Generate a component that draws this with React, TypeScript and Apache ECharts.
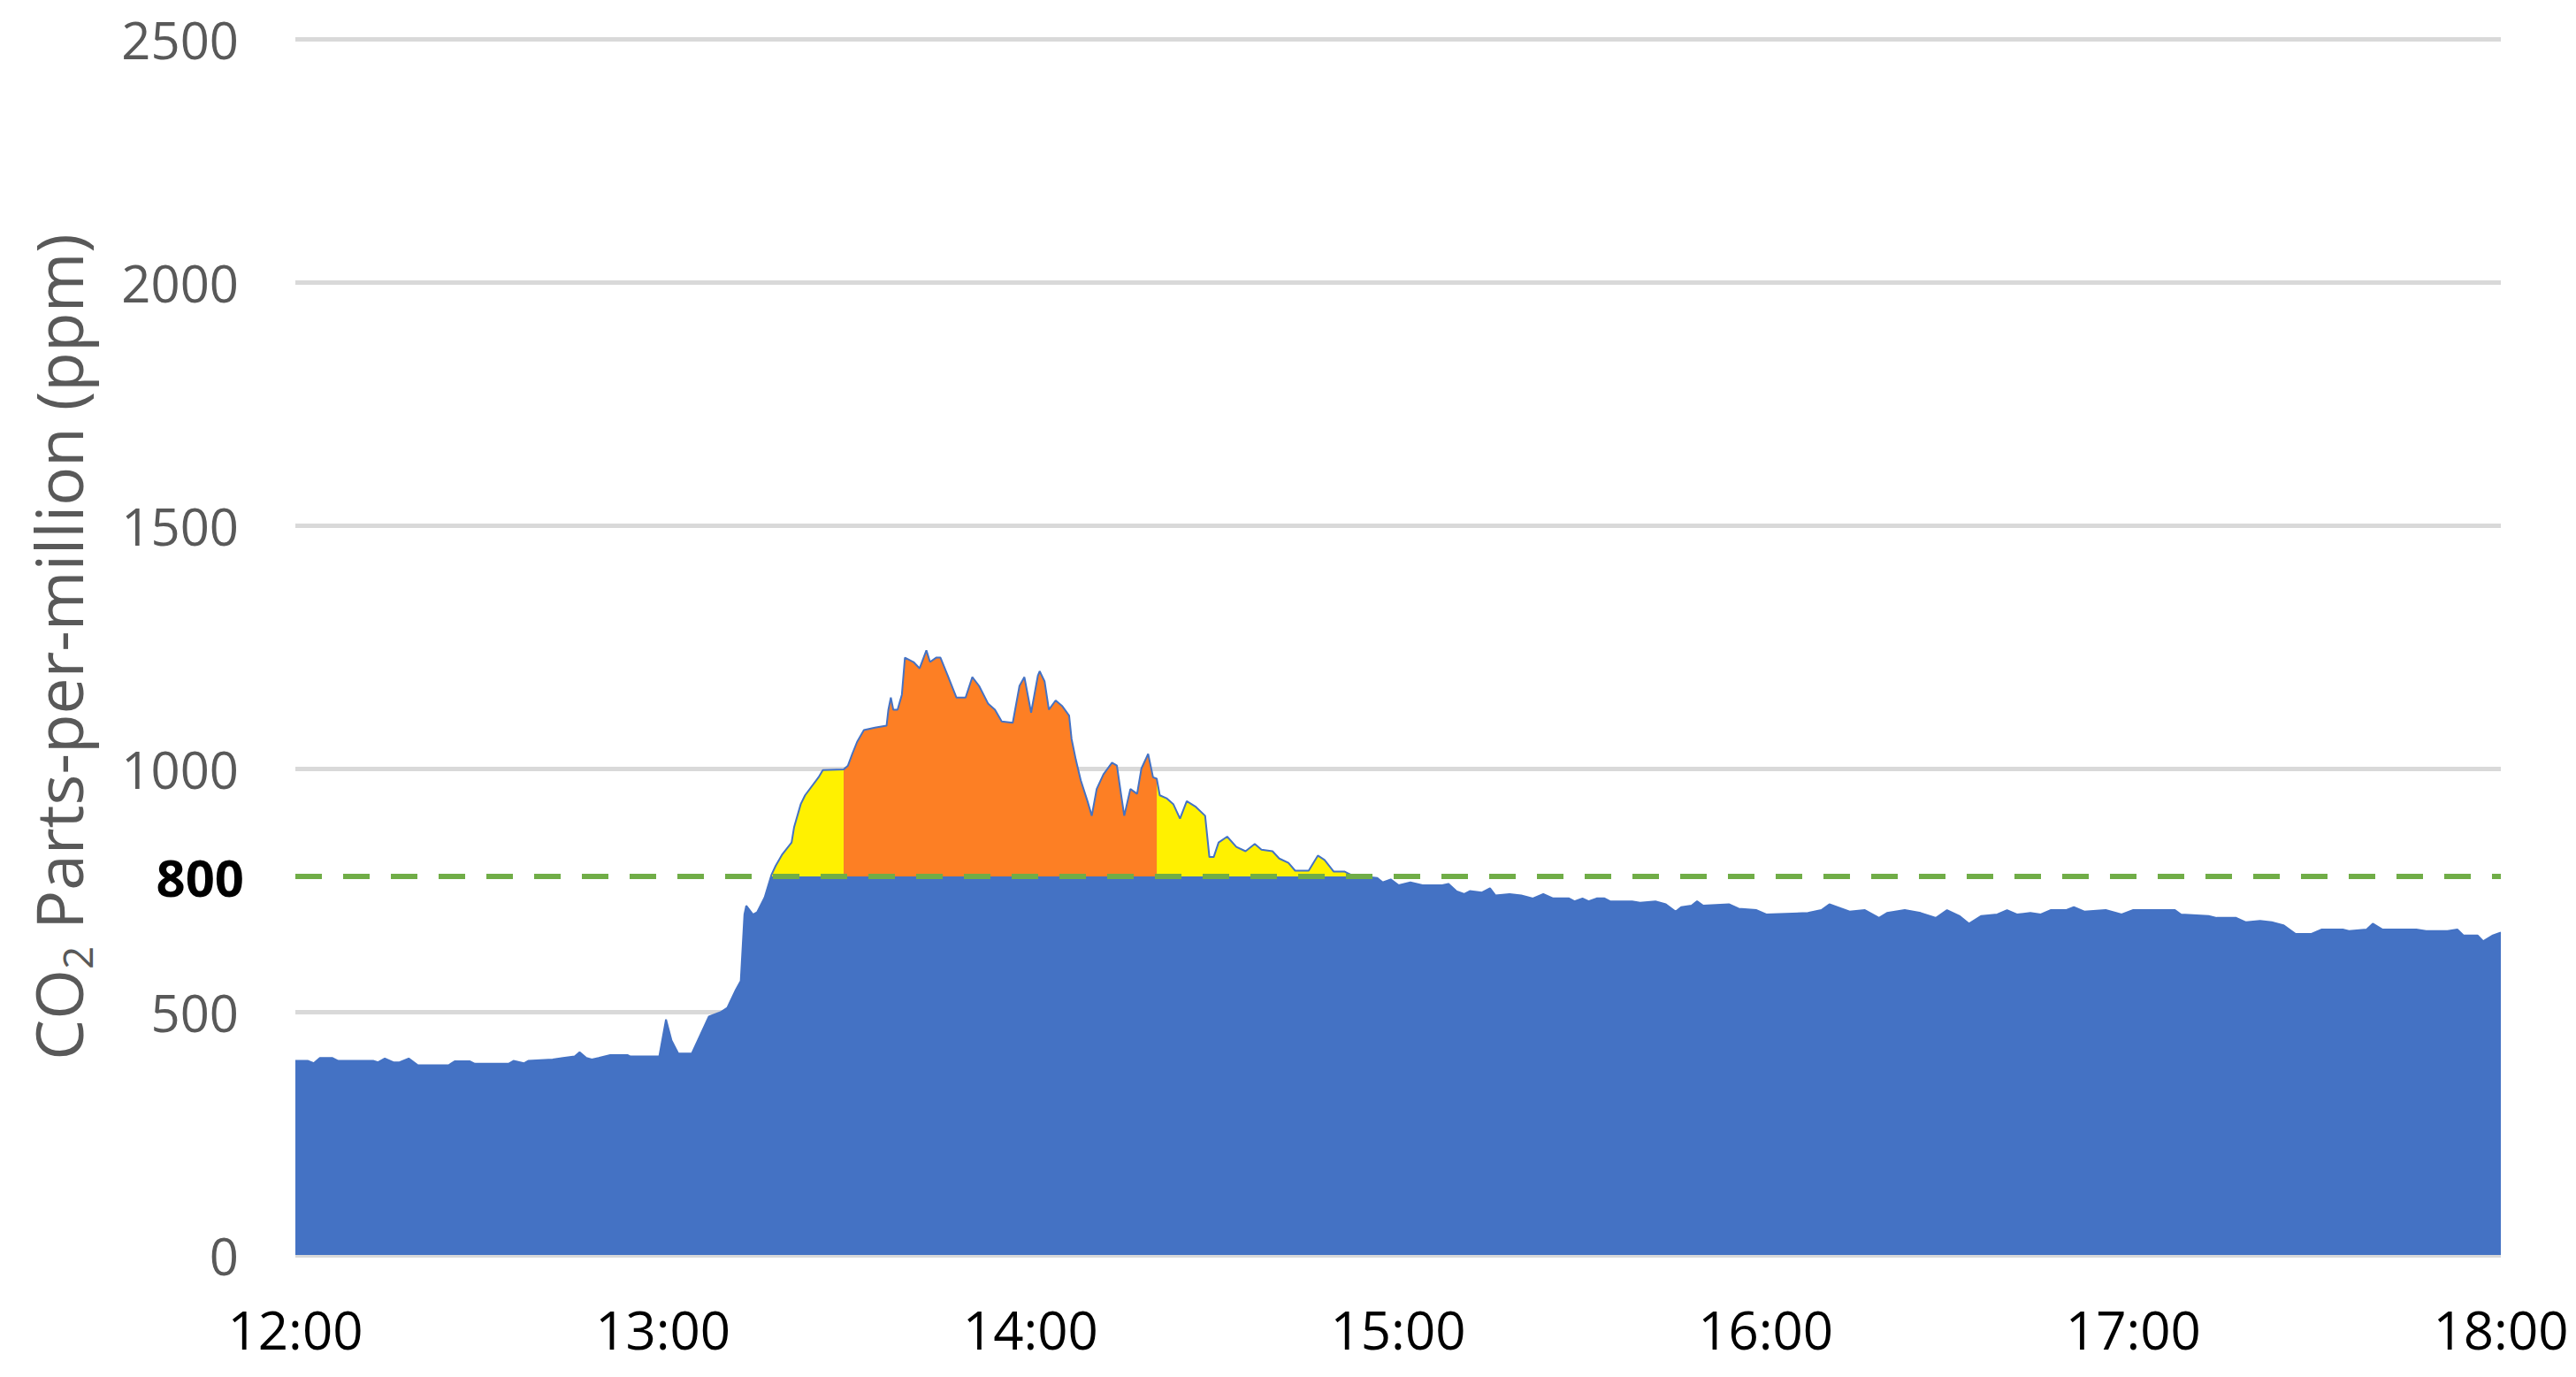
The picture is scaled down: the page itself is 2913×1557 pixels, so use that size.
import React, { useEffect, useRef } from "react";
import * as echarts from "echarts";

// ---- Tick labels ----
const X_TICK_LABELS = ["12:00", "13:00", "14:00", "15:00", "16:00", "17:00", "18:00"];
const Y_MIN = 0;
const Y_MAX = 2500;
const Y_STEP = 500;

// ---- Threshold (dashed line, labelled "800") ----
const THRESHOLD_LABEL = "800";
const THRESHOLD_LEVEL = 778;

// ---- CO2 readings: [minutes after 12:00, ppm] ----
const MORNING: [number, number][] = [
  [0, 399], [2, 399], [3, 394], [4, 405], [6, 405], [7, 399], [12.7, 399], [13.5, 396],
  [14.6, 404], [16, 396], [17, 396], [18.5, 404], [20, 390], [25, 390], [26, 398],
  [28.5, 398], [29.3, 393], [34.8, 393], [35.6, 399], [37.3, 394], [38, 399], [42, 402],
  [43.7, 405], [45.6, 408], [46.4, 417], [47.5, 405], [48.4, 402], [49.5, 405], [51.4, 411],
  [54.2, 411], [54.7, 408], [59.4, 408], [60.5, 484], [61.4, 441], [62.5, 414], [64.7, 414],
  [65.8, 444], [67.5, 490], [69.4, 499], [70.5, 508], [71.9, 545], [72.7, 563],
];

const RISE: [number, number][] = [
  [73.3, 700], [73.6, 718], [74.7, 700], [75.4, 705], [76.6, 735], [77.7, 781], [78.4, 800],
  [79.5, 824], [81, 848], [81.4, 879], [82.5, 927], [83.2, 945], [85.4, 982], [86.1, 997],
  [89.5, 998],
];

const PEAK: [number, number][] = [
  [90.2, 1006], [90.9, 1030], [91.7, 1055], [92.8, 1079], [94.6, 1084], [96.5, 1088],
  [96.8, 1121], [97.2, 1146], [97.6, 1121], [98.3, 1121], [99, 1152], [99.5, 1228],
  [100.9, 1219], [101.9, 1206], [103, 1243], [103.6, 1219], [104.6, 1228], [105.3, 1228],
  [106.4, 1194], [107.9, 1146], [109.4, 1146], [110.5, 1188], [111.6, 1170], [113.1, 1133],
  [114.2, 1121], [115.3, 1097], [117.1, 1094], [118.2, 1170], [119, 1188], [120.1, 1115],
  [121.2, 1191], [121.5, 1200], [122.3, 1179], [123, 1121], [124.1, 1140], [125.2, 1128],
  [126.3, 1109], [126.7, 1061], [127.4, 1018], [128.2, 976], [129.3, 933], [130, 903],
  [130.8, 958], [131.9, 988], [133.3, 1012], [134.1, 1006], [134.8, 945], [135.3, 903],
  [136.3, 958], [137.4, 948], [138.1, 1000], [139.2, 1030], [140, 982], [140.6, 979],
];

const AFTER: [number, number][] = [
  [141.1, 945], [142.2, 939], [143.3, 927], [144.4, 897], [145.5, 933], [147, 921],
  [148.5, 903], [149.2, 818], [149.9, 818], [150.7, 848], [152.1, 860], [153.6, 839],
  [155.1, 830], [156.6, 845], [157.7, 833], [159.5, 830], [160.6, 815], [162.1, 806],
  [163.2, 790], [165.4, 790], [166.9, 821], [168, 812], [169.5, 788], [171.3, 788],
  [172.4, 781],
];

const EVENING: [number, number][] = [
  [176.6, 775], [177.5, 766], [178.8, 772], [180.1, 760], [182, 766], [184, 760],
  [187.2, 760], [188.2, 763], [189.5, 748], [190.8, 742], [191.7, 748], [193.7, 745],
  [195, 754], [195.9, 739], [198.2, 742], [200.1, 739], [202, 733], [203.7, 742],
  [205.3, 733], [207.9, 733], [208.8, 727], [210.1, 733], [211.1, 727], [212.4, 733],
  [213.7, 733], [214.6, 727], [218.2, 727], [219.5, 724], [222, 727], [223.7, 721],
  [225.3, 706], [226.2, 715], [227.9, 718], [228.8, 727], [229.8, 718], [234, 721],
  [235.6, 712], [238.5, 709], [240.1, 700], [246.9, 703], [249.1, 709], [250.4, 721],
  [252.4, 712], [253.7, 706], [256.2, 709], [258.5, 693], [259.8, 703], [262.7, 709],
  [265.3, 703], [267.8, 693], [269.6, 709], [271.6, 697], [273.2, 681], [275.2, 697],
  [277.8, 700], [279.4, 709], [281, 700], [283.2, 703], [284.9, 700], [286.5, 709],
  [289.1, 709], [290.3, 715], [292, 706], [295.5, 709], [298.1, 700], [300, 709],
  [304.5, 709], [306.8, 709], [307.8, 700], [312.3, 697], [313.6, 693], [316.8, 693],
  [318.4, 684], [320.7, 687], [322.6, 684], [324.5, 678], [326.5, 660], [329.1, 660],
  [330.7, 669], [334.2, 669], [335.2, 666], [338.1, 669], [339.1, 681], [340.7, 669],
  [346.2, 669], [347.8, 666], [351.3, 666], [352.9, 669], [353.9, 657], [356.2, 657],
  [357.1, 645], [358.7, 657], [360, 663],
];

// ---- Highlight windows (minutes after 12:00) ----
const YELLOW_WINDOWS: [number, number][] = [[77.7, 89.5], [140.6, 172.4]];
const ORANGE_WINDOWS: [number, number][] = [[89.5, 140.6]];

const ALL = [...MORNING, ...RISE, ...PEAK, ...AFTER, ...EVENING];

function windowData(w: [number, number]) {
  return ALL.filter(([t]) => t >= w[0] && t <= w[1]).map(([t, v]) => [t, Math.max(v, THRESHOLD_LEVEL)]);
}

const FONT = "Open Sans";

export default function App() {
  const ref = useRef<HTMLDivElement>(null);
  useEffect(() => {
    if (!ref.current) return;
    const chart = echarts.init(ref.current, undefined, { renderer: "svg" });
    const highlight = (w: [number, number], color: string) => ({
      type: "line",
      data: windowData(w),
      showSymbol: false,
      symbol: "none",
      silent: true,
      lineStyle: { width: 0 },
      areaStyle: { color, opacity: 1, origin: THRESHOLD_LEVEL },
    });
    chart.setOption({
      animation: false,
      textStyle: { fontFamily: FONT },
      grid: { left: 334, right: 85, top: 44, bottom: 138, containLabel: false },
      xAxis: {
        type: "value",
        min: 0,
        max: 360,
        interval: 60,
        axisLine: { show: false },
        axisTick: { show: false },
        splitLine: { show: false },
        axisLabel: {
          formatter: (v: number) => X_TICK_LABELS[Math.round(v / 60)] ?? "",
          fontSize: 60,
          color: "#000000",
          fontFamily: FONT,
          margin: 54,
        },
      },
      yAxis: {
        type: "value",
        min: Y_MIN,
        max: Y_MAX,
        interval: Y_STEP,
        axisLine: { show: false },
        axisTick: { show: false },
        splitLine: { lineStyle: { color: "#d9d9d9", width: 5 } },
        axisLabel: {
          fontSize: 58,
          color: "#595959",
          fontFamily: FONT,
          margin: 64,
          formatter: (v: number) => String(v),
        },
        name: "{a|CO}{b|2}{a| Parts-per-million (ppm)}",
        nameLocation: "middle",
        nameGap: 224,
        nameTextStyle: {
          color: "#595959",
          rich: {
            a: { fontSize: 73, lineHeight: 90, color: "#595959", fontFamily: FONT },
            b: { fontSize: 46, lineHeight: 46, color: "#595959", fontFamily: FONT, verticalAlign: "bottom" },
          },
        },
      },
      series: [
        {
          type: "line",
          data: ALL,
          showSymbol: false,
          symbol: "none",
          silent: true,
          lineStyle: { width: 0 },
          areaStyle: { color: "#4472c4", opacity: 1 },
          markLine: {
            silent: true,
            symbol: "none",
            data: [{ yAxis: THRESHOLD_LEVEL }],
            lineStyle: { color: "#70ad47", type: [30, 24], width: 6 },
            label: {
              position: "start",
              formatter: THRESHOLD_LABEL,
              color: "#000000",
              fontWeight: "bold",
              fontSize: 58,
              fontFamily: FONT,
              distance: 58,
            },
          },
        },
        ...YELLOW_WINDOWS.map((w) => highlight(w, "#fff100")),
        ...ORANGE_WINDOWS.map((w) => highlight(w, "#fd7f24")),
        {
          type: "line",
          data: ALL,
          showSymbol: false,
          symbol: "none",
          silent: true,
          lineStyle: { color: "#4472c4", width: 2 },
        },
      ],
    });
    return () => chart.dispose();
  }, []);
  return (
    <div
      ref={ref}
      style={{ position: "fixed", left: 0, top: 0, width: 2913, height: 1557, background: "#ffffff" }}
    />
  );
}
